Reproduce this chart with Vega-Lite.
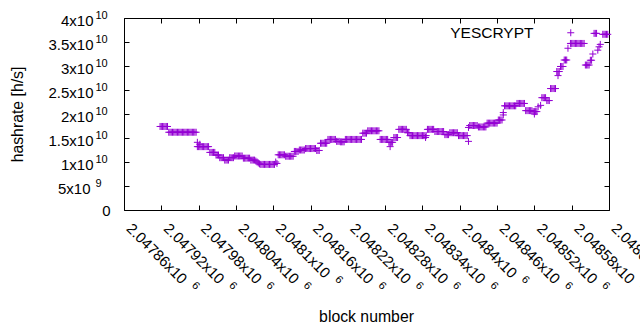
{
"$schema":"https://vega.github.io/schema/vega-lite/v6.json",
"autosize":{"type":"none"},
"padding":{"left":124,"top":18,"right":31,"bottom":120},
"width":485,"height":192,
"background":"white",
"config":{"view":{"stroke":"black","strokeWidth":1},"font":"Liberation Sans",
"axis":{"labelFont":"Liberation Sans","titleFont":"Liberation Sans","labelFontSize":15,"titleFontSize":15.8,"titleFontWeight":"normal","labelColor":"black","titleColor":"black","tickColor":"black","domainColor":"black","grid":false,"tickSize":-5,"labelOverlap":false,"labelBound":false,"labelFlush":false,"domain":false}},
"data":{"values":[
{"x":2047918,"y":1.74e10},{"x":2047920,"y":1.74e10},{"x":2047922,"y":1.74e10},{"x":2047924,"y":1.74e10},{"x":2047926,"y":1.74e10},{"x":2047928,"y":1.74e10},{"x":2047930,"y":1.74e10},
{"x":2047932,"y":1.62e10},{"x":2047934,"y":1.62e10},{"x":2047936,"y":1.62e10},{"x":2047938,"y":1.62e10},{"x":2047940,"y":1.62e10},{"x":2047942,"y":1.62e10},{"x":2047944,"y":1.62e10},{"x":2047946,"y":1.62e10},{"x":2047948,"y":1.62e10},{"x":2047950,"y":1.62e10},{"x":2047952,"y":1.62e10},{"x":2047954,"y":1.62e10},{"x":2047956,"y":1.62e10},{"x":2047958,"y":1.62e10},{"x":2047960,"y":1.62e10},{"x":2047962,"y":1.62e10},{"x":2047964,"y":1.62e10},{"x":2047966,"y":1.62e10},{"x":2047968,"y":1.62e10},{"x":2047970,"y":1.62e10},{"x":2047972,"y":1.62e10},{"x":2047974,"y":1.62e10},{"x":2047976,"y":1.62e10},
{"x":2047978,"y":1.32e10},{"x":2047980,"y":1.32e10},{"x":2047982,"y":1.32e10},{"x":2047984,"y":1.32e10},{"x":2047986,"y":1.32e10},{"x":2047988,"y":1.32e10},{"x":2047990,"y":1.32e10},{"x":2047992,"y":1.32e10},{"x":2047994,"y":1.32e10},{"x":2047996,"y":1.32e10},{"x":2047978,"y":1.41e10},{"x":2047982,"y":1.37e10},
{"x":2047998,"y":1.2e10},{"x":2048000,"y":1.2e10},{"x":2048002,"y":1.2e10},{"x":2048004,"y":1.2e10},{"x":2048006,"y":1.2e10},
{"x":2048008,"y":1.145e10},{"x":2048010,"y":1.145e10},{"x":2048012,"y":1.145e10},
{"x":2048014,"y":1.09e10},{"x":2048016,"y":1.09e10},{"x":2048018,"y":1.09e10},{"x":2048020,"y":1.09e10},
{"x":2048022,"y":1.04e10},{"x":2048024,"y":1.04e10},{"x":2048026,"y":1.04e10},{"x":2048028,"y":1.04e10},
{"x":2048030,"y":1.09e10},{"x":2048032,"y":1.09e10},{"x":2048034,"y":1.09e10},{"x":2048036,"y":1.09e10},
{"x":2048038,"y":1.125e10},{"x":2048040,"y":1.125e10},{"x":2048042,"y":1.125e10},{"x":2048044,"y":1.125e10},{"x":2048046,"y":1.125e10},{"x":2048048,"y":1.125e10},{"x":2048050,"y":1.125e10},
{"x":2048052,"y":1.08e10},{"x":2048054,"y":1.08e10},{"x":2048056,"y":1.08e10},{"x":2048058,"y":1.08e10},{"x":2048060,"y":1.08e10},{"x":2048062,"y":1.08e10},
{"x":2048064,"y":1.04e10},{"x":2048066,"y":1.04e10},{"x":2048068,"y":1.04e10},{"x":2048070,"y":1.04e10},
{"x":2048072,"y":1.02e10},{"x":2048074,"y":1.0e10},{"x":2048076,"y":0.98e10},{"x":2048078,"y":0.96e10},
{"x":2048080,"y":0.95e10},{"x":2048082,"y":0.95e10},{"x":2048084,"y":0.95e10},{"x":2048086,"y":0.95e10},{"x":2048088,"y":0.95e10},{"x":2048090,"y":0.95e10},{"x":2048092,"y":0.95e10},{"x":2048094,"y":0.95e10},{"x":2048096,"y":0.95e10},{"x":2048098,"y":0.95e10},{"x":2048100,"y":0.95e10},{"x":2048102,"y":0.95e10},
{"x":2048104,"y":1.0e10},{"x":2048106,"y":0.97e10},
{"x":2048108,"y":1.15e10},{"x":2048110,"y":1.15e10},{"x":2048112,"y":1.15e10},{"x":2048114,"y":1.15e10},{"x":2048116,"y":1.15e10},{"x":2048118,"y":1.15e10},
{"x":2048120,"y":1.12e10},{"x":2048122,"y":1.12e10},{"x":2048124,"y":1.12e10},{"x":2048126,"y":1.12e10},{"x":2048128,"y":1.12e10},{"x":2048130,"y":1.12e10},{"x":2048132,"y":1.12e10},
{"x":2048134,"y":1.22e10},{"x":2048136,"y":1.22e10},{"x":2048138,"y":1.22e10},{"x":2048140,"y":1.22e10},
{"x":2048142,"y":1.25e10},{"x":2048144,"y":1.25e10},{"x":2048146,"y":1.25e10},{"x":2048148,"y":1.25e10},{"x":2048150,"y":1.25e10},
{"x":2048152,"y":1.28e10},{"x":2048154,"y":1.28e10},{"x":2048156,"y":1.28e10},{"x":2048158,"y":1.28e10},{"x":2048160,"y":1.28e10},{"x":2048162,"y":1.28e10},{"x":2048164,"y":1.28e10},{"x":2048166,"y":1.28e10},{"x":2048168,"y":1.28e10},
{"x":2048170,"y":1.24e10},{"x":2048172,"y":1.24e10},{"x":2048174,"y":1.24e10},
{"x":2048176,"y":1.39e10},{"x":2048178,"y":1.39e10},{"x":2048180,"y":1.39e10},{"x":2048182,"y":1.39e10},{"x":2048184,"y":1.39e10},{"x":2048186,"y":1.39e10},
{"x":2048188,"y":1.47e10},{"x":2048190,"y":1.47e10},{"x":2048192,"y":1.47e10},{"x":2048194,"y":1.47e10},{"x":2048196,"y":1.47e10},{"x":2048198,"y":1.47e10},{"x":2048200,"y":1.47e10},
{"x":2048202,"y":1.43e10},{"x":2048204,"y":1.43e10},{"x":2048206,"y":1.43e10},
{"x":2048208,"y":1.42e10},{"x":2048210,"y":1.42e10},{"x":2048212,"y":1.42e10},{"x":2048214,"y":1.42e10},
{"x":2048216,"y":1.47e10},{"x":2048218,"y":1.47e10},{"x":2048220,"y":1.47e10},{"x":2048222,"y":1.47e10},{"x":2048224,"y":1.47e10},{"x":2048226,"y":1.47e10},{"x":2048228,"y":1.47e10},{"x":2048230,"y":1.47e10},{"x":2048232,"y":1.47e10},{"x":2048234,"y":1.47e10},{"x":2048236,"y":1.47e10},{"x":2048238,"y":1.47e10},{"x":2048240,"y":1.47e10},{"x":2048242,"y":1.47e10},
{"x":2048244,"y":1.6e10},{"x":2048246,"y":1.6e10},{"x":2048248,"y":1.6e10},{"x":2048250,"y":1.6e10},
{"x":2048252,"y":1.65e10},{"x":2048254,"y":1.65e10},{"x":2048256,"y":1.65e10},{"x":2048258,"y":1.65e10},{"x":2048260,"y":1.65e10},{"x":2048262,"y":1.65e10},{"x":2048264,"y":1.65e10},{"x":2048266,"y":1.65e10},{"x":2048268,"y":1.65e10},{"x":2048270,"y":1.65e10},
{"x":2048272,"y":1.47e10},{"x":2048274,"y":1.47e10},{"x":2048276,"y":1.47e10},{"x":2048278,"y":1.47e10},{"x":2048280,"y":1.47e10},{"x":2048282,"y":1.47e10},{"x":2048284,"y":1.47e10},
{"x":2048286,"y":1.41e10},{"x":2048288,"y":1.41e10},{"x":2048290,"y":1.41e10},{"x":2048292,"y":1.41e10},{"x":2048288,"y":1.32e10},
{"x":2048294,"y":1.51e10},{"x":2048296,"y":1.51e10},{"x":2048298,"y":1.51e10},{"x":2048300,"y":1.51e10},
{"x":2048302,"y":1.68e10},{"x":2048304,"y":1.68e10},{"x":2048306,"y":1.68e10},{"x":2048308,"y":1.68e10},{"x":2048310,"y":1.68e10},{"x":2048312,"y":1.68e10},{"x":2048314,"y":1.68e10},
{"x":2048316,"y":1.61e10},{"x":2048318,"y":1.61e10},
{"x":2048320,"y":1.55e10},{"x":2048322,"y":1.55e10},{"x":2048324,"y":1.55e10},{"x":2048326,"y":1.55e10},{"x":2048328,"y":1.55e10},{"x":2048330,"y":1.55e10},{"x":2048332,"y":1.55e10},{"x":2048334,"y":1.55e10},{"x":2048336,"y":1.55e10},{"x":2048338,"y":1.55e10},{"x":2048340,"y":1.55e10},{"x":2048342,"y":1.55e10},{"x":2048344,"y":1.55e10},{"x":2048346,"y":1.55e10},{"x":2048345,"y":1.51e10},
{"x":2048348,"y":1.68e10},{"x":2048350,"y":1.68e10},{"x":2048352,"y":1.68e10},{"x":2048354,"y":1.68e10},{"x":2048356,"y":1.68e10},{"x":2048358,"y":1.68e10},
{"x":2048360,"y":1.635e10},{"x":2048362,"y":1.635e10},{"x":2048364,"y":1.635e10},{"x":2048366,"y":1.635e10},{"x":2048368,"y":1.635e10},{"x":2048370,"y":1.635e10},{"x":2048372,"y":1.635e10},{"x":2048374,"y":1.635e10},
{"x":2048376,"y":1.57e10},{"x":2048378,"y":1.57e10},{"x":2048380,"y":1.57e10},{"x":2048382,"y":1.57e10},
{"x":2048384,"y":1.61e10},{"x":2048386,"y":1.61e10},{"x":2048388,"y":1.61e10},{"x":2048390,"y":1.61e10},{"x":2048392,"y":1.61e10},{"x":2048394,"y":1.61e10},{"x":2048396,"y":1.61e10},
{"x":2048398,"y":1.55e10},{"x":2048400,"y":1.55e10},{"x":2048402,"y":1.55e10},{"x":2048404,"y":1.55e10},{"x":2048406,"y":1.55e10},{"x":2048408,"y":1.55e10},{"x":2048410,"y":1.55e10},{"x":2048412,"y":1.55e10},
{"x":2048414,"y":1.43e10},{"x":2048414,"y":1.72e10},
{"x":2048416,"y":1.76e10},{"x":2048418,"y":1.76e10},{"x":2048420,"y":1.76e10},{"x":2048422,"y":1.76e10},{"x":2048424,"y":1.76e10},{"x":2048426,"y":1.76e10},{"x":2048428,"y":1.76e10},
{"x":2048430,"y":1.73e10},{"x":2048432,"y":1.73e10},{"x":2048434,"y":1.73e10},{"x":2048436,"y":1.73e10},{"x":2048438,"y":1.73e10},{"x":2048440,"y":1.73e10},{"x":2048442,"y":1.73e10},
{"x":2048444,"y":1.81e10},{"x":2048446,"y":1.81e10},{"x":2048448,"y":1.81e10},{"x":2048450,"y":1.81e10},{"x":2048452,"y":1.81e10},{"x":2048454,"y":1.81e10},{"x":2048456,"y":1.81e10},{"x":2048458,"y":1.81e10},{"x":2048460,"y":1.81e10},
{"x":2048462,"y":1.875e10},{"x":2048464,"y":1.875e10},{"x":2048466,"y":1.875e10},{"x":2048468,"y":1.875e10},
{"x":2048470,"y":1.98e10},{"x":2048470,"y":2.03e10},
{"x":2048472,"y":2.17e10},{"x":2048474,"y":2.17e10},{"x":2048476,"y":2.17e10},{"x":2048478,"y":2.17e10},{"x":2048480,"y":2.17e10},{"x":2048482,"y":2.17e10},{"x":2048484,"y":2.17e10},{"x":2048486,"y":2.17e10},{"x":2048488,"y":2.17e10},{"x":2048490,"y":2.17e10},
{"x":2048492,"y":2.22e10},{"x":2048494,"y":2.22e10},{"x":2048496,"y":2.22e10},{"x":2048498,"y":2.22e10},{"x":2048500,"y":2.22e10},{"x":2048502,"y":2.22e10},{"x":2048504,"y":2.22e10},
{"x":2048506,"y":2.07e10},{"x":2048508,"y":2.07e10},{"x":2048510,"y":2.07e10},{"x":2048512,"y":2.07e10},{"x":2048514,"y":2.07e10},{"x":2048516,"y":2.07e10},
{"x":2048518,"y":2.05e10},{"x":2048520,"y":2.05e10},{"x":2048522,"y":2.05e10},{"x":2048524,"y":2.05e10},{"x":2048520,"y":2.0e10},
{"x":2048526,"y":2.15e10},{"x":2048530,"y":2.18e10},
{"x":2048532,"y":2.34e10},{"x":2048534,"y":2.34e10},{"x":2048536,"y":2.34e10},{"x":2048538,"y":2.34e10},
{"x":2048540,"y":2.28e10},{"x":2048542,"y":2.28e10},{"x":2048544,"y":2.28e10},
{"x":2048546,"y":2.53e10},{"x":2048548,"y":2.53e10},{"x":2048550,"y":2.53e10},{"x":2048552,"y":2.53e10},{"x":2048554,"y":2.53e10},
{"x":2048556,"y":2.885e10},{"x":2048558,"y":2.885e10},{"x":2048560,"y":2.885e10},{"x":2048558,"y":2.8e10},
{"x":2048562,"y":2.99e10},{"x":2048564,"y":2.99e10},{"x":2048566,"y":2.99e10},
{"x":2048568,"y":3.125e10},{"x":2048570,"y":3.125e10},{"x":2048572,"y":3.125e10},
{"x":2048574,"y":3.37e10},
{"x":2048578,"y":3.47e10},{"x":2048580,"y":3.47e10},{"x":2048582,"y":3.47e10},{"x":2048584,"y":3.47e10},{"x":2048586,"y":3.47e10},{"x":2048588,"y":3.47e10},{"x":2048590,"y":3.47e10},{"x":2048592,"y":3.47e10},{"x":2048594,"y":3.47e10},{"x":2048596,"y":3.47e10},{"x":2048598,"y":3.47e10},{"x":2048600,"y":3.47e10},
{"x":2048602,"y":3.02e10},{"x":2048604,"y":3.02e10},{"x":2048606,"y":3.02e10},{"x":2048608,"y":3.02e10},
{"x":2048610,"y":3.12e10},{"x":2048612,"y":3.12e10},{"x":2048614,"y":3.25e10},
{"x":2048616,"y":3.68e10},{"x":2048618,"y":3.68e10},{"x":2048620,"y":3.68e10},
{"x":2048622,"y":3.33e10},{"x":2048624,"y":3.4e10},{"x":2048626,"y":3.45e10},
{"x":2048630,"y":3.66e10},{"x":2048632,"y":3.66e10},{"x":2048634,"y":3.66e10},{"x":2048636,"y":3.66e10},{"x":2048638,"y":3.66e10}
]},
"layer":[
{"mark":{"type":"point","shape":"M-1,0H1M0,-1V1","size":49,"filled":false,"strokeWidth":1,"opacity":1},
"encoding":{
"x":{"field":"x","type":"quantitative","scale":{"domain":[2047860,2048640],"nice":false,"zero":false},
"axis":{"orient":"bottom","values":[2047860,2047920,2047980,2048040,2048100,2048160,2048220,2048280,2048340,2048400,2048460,2048520,2048580,2048640],"labelExpr":"format(datum.value/1e6,'.5~f')+'x10'","labelAngle":45,"labelAlign":"left","labelBaseline":"alphabetic","labelPadding":24,"labelOffset":1,"title":"block number","titleX":242,"titleY":106,"titleBaseline":"middle","titleAlign":"center"}},
"y":{"field":"y","type":"quantitative","scale":{"domain":[0,4e10],"nice":false},
"axis":{"orient":"left","values":[0,5e9,1e10,1.5e10,2e10,2.5e10,3e10,3.5e10,4e10],"labelExpr":"datum.value==0?'0':(datum.value<1e10?format(datum.value/1e9,'~g')+'x10':format(datum.value/1e10,'~g')+'x10')","labelAlign":"right","labelBaseline":"alphabetic",
"labelPadding":{"expr":"datum.value==0 ? 19 : (datum.value==5e9 ? 39 : 36)"},
"labelOffset":{"expr":"datum.value==0 ? 5.4 : 7.7"},
"title":"hashrate [h/s]","titleX":-107,"titleY":96,"titleAngle":-90,"titleBaseline":"middle","titleAlign":"center"}},
"color":{"datum":"YESCRYPT","type":"nominal","scale":{"range":["#9400d3"]},
"legend":{"title":null,"orient":"none","legendX":439,"legendY":7,"padding":0,"symbolType":"M-1,0H1M0,-1V1","symbolSize":49,"symbolStrokeWidth":1,"labelAlign":"right","labelOffset":-45,"labelFontSize":15.5,"labelFont":"Liberation Sans","labelColor":"black"}}
}},
{"mark":{"type":"point","opacity":0},
"encoding":{
"x":{"field":"x","type":"quantitative","scale":{"domain":[2047860,2048640],"nice":false,"zero":false},"axis":{"orient":"top","values":[2047860,2047920,2047980,2048040,2048100,2048160,2048220,2048280,2048340,2048400,2048460,2048520,2048580,2048640],"labels":false,"title":null}},
"y":{"field":"y","type":"quantitative","scale":{"domain":[0,4e10],"nice":false},"axis":{"orient":"right","values":[0,5e9,1e10,1.5e10,2e10,2.5e10,3e10,3.5e10,4e10],"labels":false,"title":null}}
}},
{"mark":{"type":"point","opacity":0},
"encoding":{
"x":{"field":"x","type":"quantitative","scale":{"domain":[2047860,2048640],"nice":false,"zero":false},"axis":{"orient":"bottom","values":[2047860,2047920,2047980,2048040,2048100,2048160,2048220,2048280,2048340,2048400,2048460,2048520,2048580,2048640],"labelExpr":"'6'","labelFontSize":11,"labelAngle":45,"labelAlign":"left","labelBaseline":"alphabetic",
"labelPadding":{"expr":"(datum.value==2048100 || datum.value==2048400) ? 74.6 : 80.5"},
"labelOffset":{"expr":"(datum.value==2048100 || datum.value==2048400) ? 60.8 : 66.7"},
"tickOpacity":0,"title":null}},
"y":{"field":"y","type":"quantitative","scale":{"domain":[0,4e10],"nice":false},"axis":{"orient":"left","values":[0,5e9,1e10,1.5e10,2e10,2.5e10,3e10,3.5e10,4e10],"labelExpr":"datum.value==0?'':(datum.value<1e10?'9':'10')","labelFontSize":11,"labelAlign":"left","labelBaseline":"alphabetic","labelPadding":34,"tickOpacity":0,"title":null}}
}}
],
"resolve":{"axis":{"x":"independent","y":"independent"}}
}
